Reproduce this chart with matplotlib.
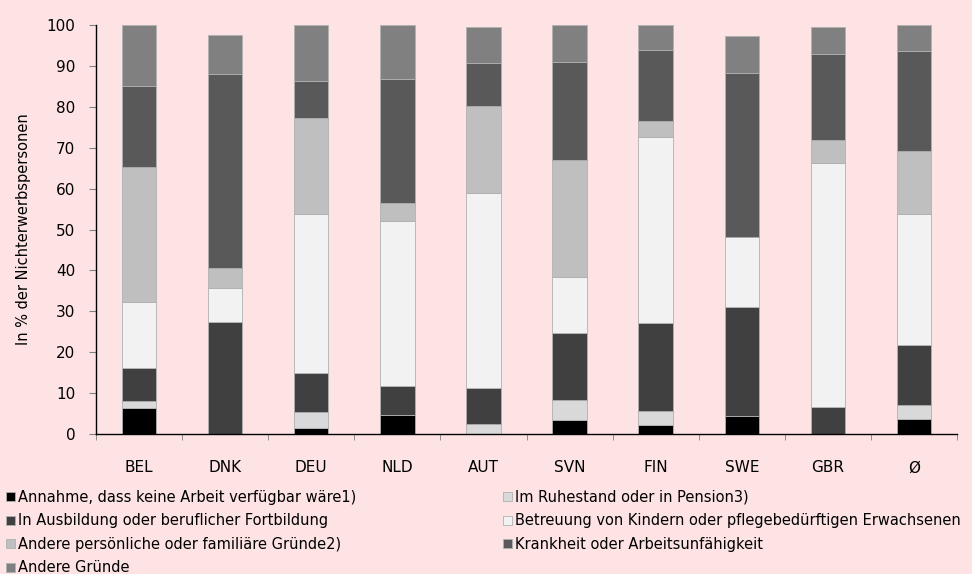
import matplotlib
matplotlib.use("Agg")
import matplotlib.pyplot as plt
import numpy as np

categories = ["BEL", "DNK", "DEU", "NLD", "AUT", "SVN", "FIN", "SWE", "GBR", "Ø"]

series_names = [
    "Annahme, dass keine Arbeit verfügbar wäre1)",
    "Im Ruhestand oder in Pension3)",
    "In Ausbildung oder beruflicher Fortbildung",
    "Betreuung von Kindern oder pflegebedürftigen Erwachsenen",
    "Andere persönliche oder familiäre Gründe2)",
    "Krankheit oder Arbeitsunfähigkeit",
    "Andere Gründe",
]

annahme     = [6.3, 0.0, 1.5, 4.7, 0.0, 3.4, 2.3, 4.3, 0.0, 3.7]
ruhestand   = [1.7, 0.0, 4.0, 0.0, 2.4, 4.9, 3.3, 0.0, 0.0, 3.4]
ausbildung  = [8.2, 27.5, 9.3, 7.1, 8.8, 16.5, 21.5, 26.8, 6.6, 14.7]
betreuung   = [16.1, 8.2, 38.9, 40.4, 47.8, 13.6, 45.6, 17.0, 59.7, 31.9]
persoenlich = [32.9, 4.9, 23.6, 4.4, 21.3, 28.5, 3.8, 0.0, 5.6, 15.6]
krankheit   = [20.0, 47.3, 8.9, 30.3, 10.3, 24.1, 17.3, 40.2, 20.9, 24.4]
andere      = [14.8, 9.7, 13.8, 13.1, 8.9, 9.0, 6.2, 9.1, 6.6, 6.3]

series = [annahme, ruhestand, ausbildung, betreuung, persoenlich, krankheit, andere]
colors = ["#000000", "#d9d9d9", "#404040", "#f2f2f2", "#bfbfbf", "#595959", "#808080"]

bg = "#fee3e5"
plt.rcParams['font.family'] = ['DejaVu Sans']

fig = plt.figure(figsize=(9.72, 5.74), dpi=100, facecolor=bg)
ax = fig.add_axes([96/972, 1-434/574, (957-96)/972, (434-25)/574])
ax.set_facecolor(bg)

x = np.arange(len(categories))
bottom = np.zeros(len(categories))
handles = []
for vals, col, name in zip(series, colors, series_names):
    v = np.array(vals)
    b = ax.bar(x, v, 0.4, bottom=bottom, color=col, edgecolor="#b0b0b0",
               linewidth=0.6, label=name)
    handles.append(b)
    bottom += v

ax.set_xlim(-0.5, len(categories) - 0.5)
ax.set_ylim(0, 100)
ax.set_yticks(np.arange(0, 101, 10))
ax.tick_params(axis='y', labelsize=11, length=5, color="#808080", pad=10)
ax.set_xticks(x)
ax.set_xticklabels(categories)
ax.tick_params(axis='x', which='major', length=0, labelsize=11, pad=19)
ax.set_xticks(np.arange(-0.5, len(categories), 1.0), minor=True)
ax.tick_params(axis='x', which='minor', length=4, color="#808080")
for s in ["top", "right"]:
    ax.spines[s].set_visible(False)
for s in ["left", "bottom"]:
    ax.spines[s].set_color("black")
    ax.spines[s].set_linewidth(1.0)
ax.set_ylabel("In % der Nichterwerbspersonen", fontsize=10.5)
ax.yaxis.set_label_coords((31 - 96) / 861, 0.5)

col1 = [0, 2, 4, 6]
col2 = [1, 3, 5]
kw = dict(frameon=False, fontsize=10.5, handlelength=0.6, handleheight=0.6,
          handletextpad=0.2, labelspacing=0.58, borderaxespad=0, borderpad=0)
leg1 = fig.legend([handles[i] for i in col1], [series_names[i] for i in col1],
                  loc="upper left", bbox_to_anchor=(6/972, 1-490/574), **kw)
leg2 = fig.legend([handles[i] for i in col2], [series_names[i] for i in col2],
                  loc="upper left", bbox_to_anchor=(503/972, 1-490/574), **kw)

fig.savefig("out.png", dpi=100, facecolor=bg)
